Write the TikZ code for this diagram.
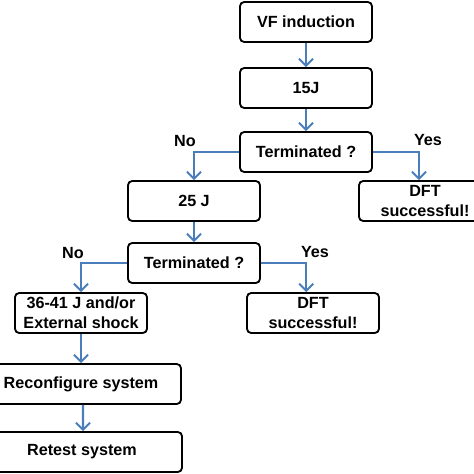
\documentclass[tikz,border=0pt]{standalone}
\usepackage{fontspec}
\setmainfont{Liberation Sans}
\usepackage{xcolor}
\usetikzlibrary{arrows.meta,positioning}
\definecolor{flowblue}{RGB}{74,126,187}
\tikzset{
  fbox/.style={draw, rounded corners=3pt, line width=1.3pt, align=center, minimum width=3.3cm, minimum height=1.0cm, inner sep=2pt, fill=white, font=\fontsize{11.5}{14}\selectfont\bfseries},
  fboxwide/.style={fbox, minimum width=5.0cm},
  farrow/.style={-{Straight Barb[length=5pt,width=10pt,line width=1.4pt]}, line width=1.5pt, draw=flowblue},
  flabel/.style={font=\fontsize{11.5}{14}\selectfont\bfseries, inner sep=0pt}
}
\begin{document}
\begin{tikzpicture}[x=0.025cm,y=-0.025cm]
\useasboundingbox (0,0) rectangle (474,474);
\node[fbox] (induct) at (306,22) {VF induction};
\node[fbox] (j15) at (306,88) {15J};
\node[fbox] (term1) at (306,152) {Terminated ?};
\node[fbox] (j25) at (194,201) {25 J};
\node[fbox] (dft1) at (425,201) {DFT\\successful!};
\node[fbox] (term2) at (194,263) {Terminated ?};
\node[fbox] (shock) at (81,313) {36-41 J and/or\\External shock};
\node[fbox] (dft2) at (313,313) {DFT\\successful!};
\node[fboxwide] (reconf) at (81,384) {Reconfigure system};
\node[fboxwide] (retest) at (82,452) {Retest system};

\node[flabel] (no1) at (185,141) {No};
\node[flabel] (yes1) at (428,140) {Yes};
\node[flabel] (no2) at (73,253) {No};
\node[flabel] (yes2) at (315,252) {Yes};

\draw[farrow] (induct.south) -- (j15.north);
\draw[farrow] (j15.south) -- (term1.north);
\draw[farrow] (term1.west) -| (j25.north);
\draw[farrow] (term1.east) -| ([xshift=-0.15cm]dft1.north);
\draw[farrow] (j25.south) -- (term2.north);
\draw[farrow] (term2.west) -| (shock.north);
\draw[farrow] (term2.east) -| ([xshift=-0.17cm]dft2.north);
\draw[farrow] (shock.south) -- (reconf.north);
\draw[farrow] ([xshift=0.05cm]reconf.south) -- ([xshift=0.025cm]retest.north);
\end{tikzpicture}
\end{document}
